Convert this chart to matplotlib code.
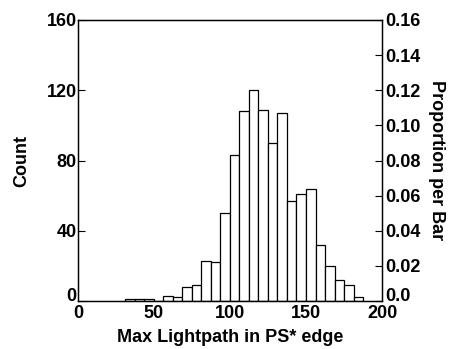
import numpy as np
from matplotlib import pyplot as plt
from matplotlib.transforms import ScaledTranslation

plt.rcParams['font.family'] = ['Liberation Sans', 'DejaVu Sans']
plt.rcParams['font.weight'] = 'bold'
plt.rcParams['axes.labelweight'] = 'bold'

# histogram: bin width 6.25, first bin starts at 31.25
bin_width = 6.25
bin_start = 31.25
counts = [1, 1, 1, 0, 3, 2, 8, 9, 23, 22, 50, 83, 108, 120, 109, 90, 107,
          57, 61, 64, 32, 20, 12, 9, 2]
n_total = 1000

x_ticks = [0, 50, 100, 150, 200]
y_ticks = [0, 40, 80, 120, 160]
prop_ticks = [0.0, 0.02, 0.04, 0.06, 0.08, 0.10, 0.12, 0.14, 0.16]
prop_labels = ['0.0', '0.02', '0.04', '0.06', '0.08', '0.10', '0.12', '0.14', '0.16']

fs = 13

fig = plt.figure(figsize=(4.5, 3.49), dpi=100)
ax = fig.add_axes([0.1733, 0.1375, 0.6756, 0.8052])

edges = bin_start + bin_width * np.arange(len(counts))
ax.bar(edges, counts, width=bin_width, align='edge', color='white',
       edgecolor='black', linewidth=0.9)

ax.set_xlim(0, 200)
ax.set_ylim(0, 160)
ax.set_xticks(x_ticks)
ax.set_yticks(y_ticks)
ax.tick_params(axis='x', length=0, pad=3, labelsize=fs)
ax.tick_params(axis='y', direction='in', length=5, pad=1, labelsize=fs)
ax.set_xlabel('Max Lightpath in PS* edge', fontsize=fs, labelpad=5)
ax.set_ylabel('Count', fontsize=fs, labelpad=12)
for s in ax.spines.values():
    s.set_linewidth(1.0)

ax2 = ax.twinx()
ax2.set_ylim(0, 160 / n_total)
ax2.set_yticks(prop_ticks)
ax2.set_yticklabels(prop_labels)
ax2.tick_params(axis='y', direction='in', length=5, pad=2, labelsize=fs)
ax2.set_ylabel('Proportion per Bar', fontsize=fs, rotation=270, labelpad=18)

# the zero labels sit a little above the corner in the original
lift = ScaledTranslation(0, 5 / 72, fig.dpi_scale_trans)
for lbl in [ax.get_yticklabels()[0], ax2.get_yticklabels()[0]]:
    lbl.set_transform(lbl.get_transform() + lift)

fig.savefig('out.png', dpi=100)
